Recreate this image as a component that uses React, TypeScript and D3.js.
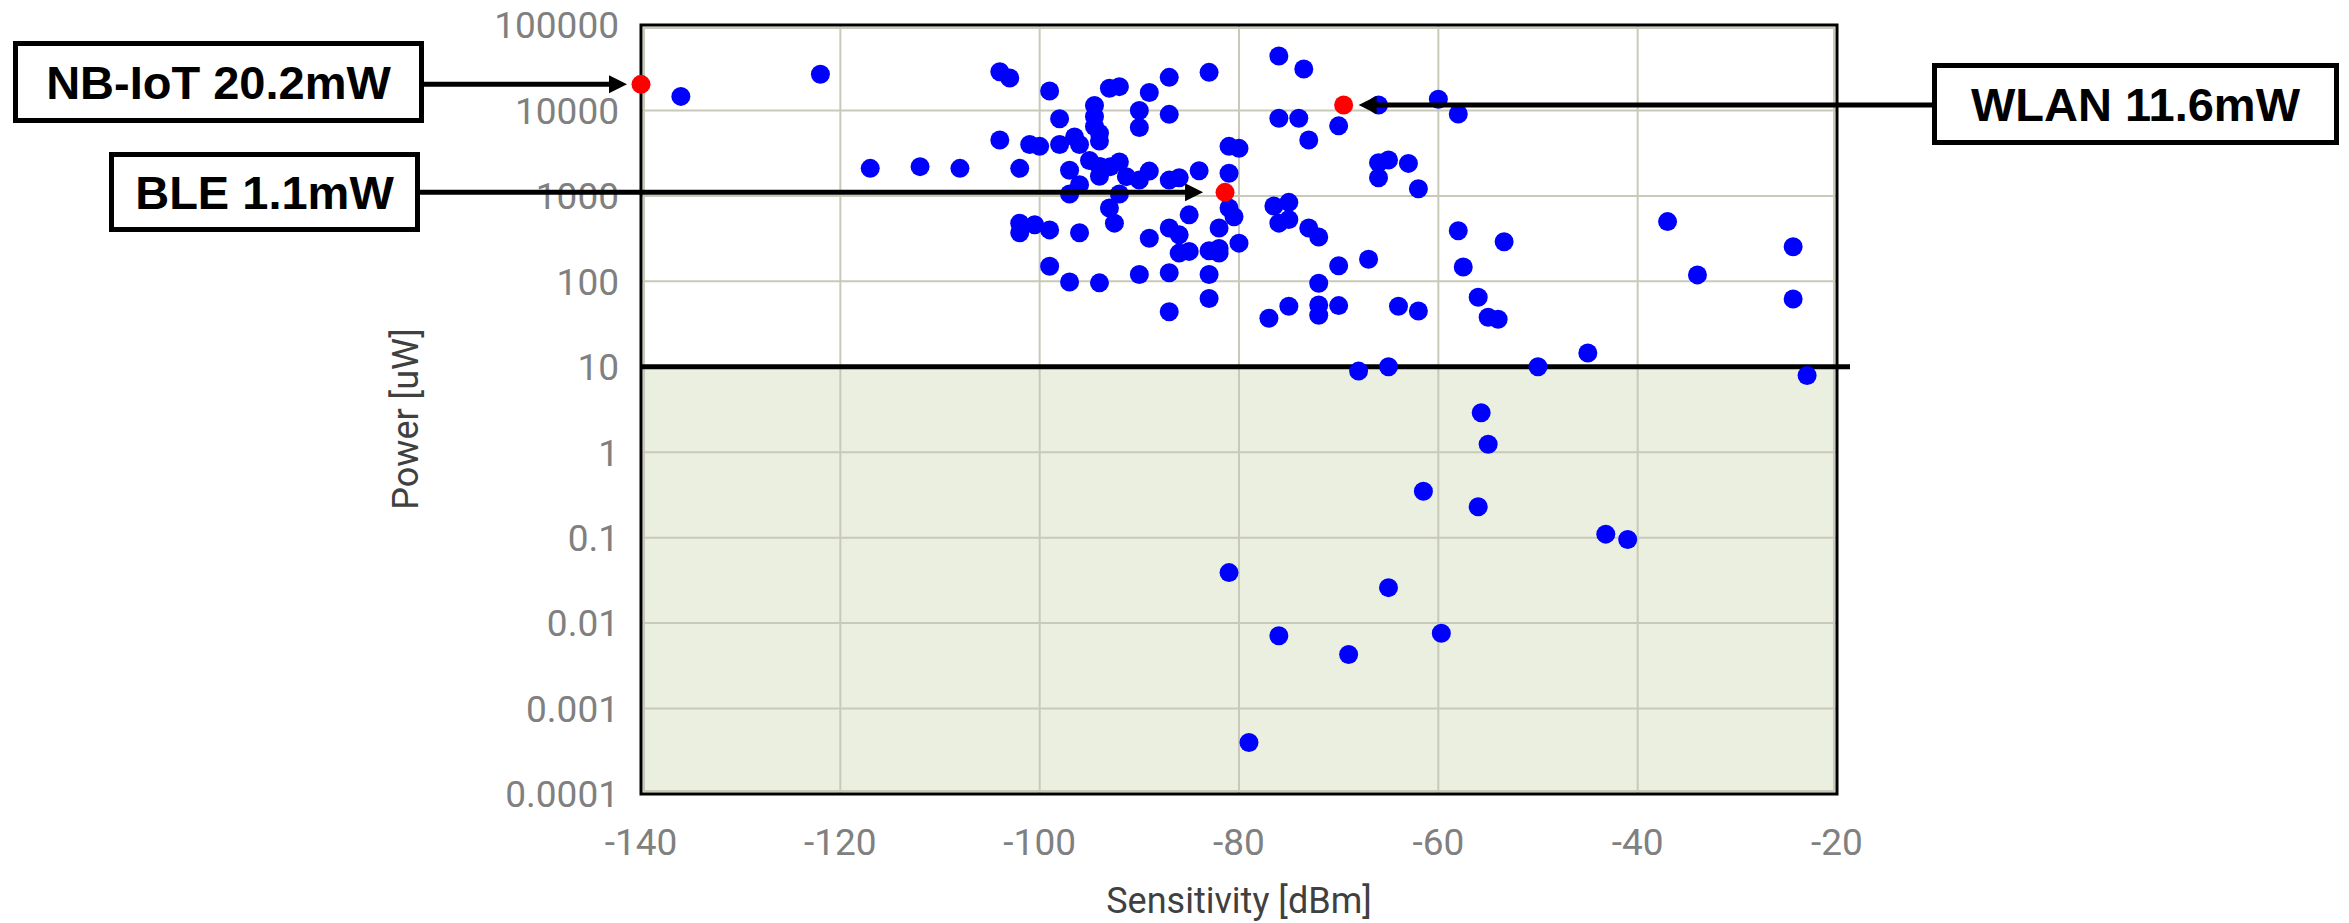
import React from "react"
import * as d3 from "d3"

// radio transceivers: sensitivity [dBm] vs power [uW]
const sensitivity = [
  -136, -122, -104, -103, -99, -93, -92, -94.5, -94.5, -98, -94.5, -94, -94, -104, -101, -100, -98, -96.5, -96,
  -117, -112, -108, -102, -97, -95, -94, -93.9, -92.9, -92, -94, -96, -97, -92, -93, -92.5, -102, -102, -100.5,
  -99, -96, -99, -97, -94, -89, -87, -83, -90, -90, -87, -76, -73.5, -76, -74, -73, -70, -66, -60, -58, -81, -80,
  -81, -84, -89, -87, -86, -91.3, -90, -85, -87, -86, -89, -82, -81, -80.5, -86, -85, -83, -82, -82, -80, -90,
  -87, -83, -83, -87, -76.5, -75, -76, -75, -73, -72, -70, -67, -72, -75, -77, -72, -72, -70, -64, -62, -66, -66,
  -65, -63, -62, -58, -57.5, -53.4, -56, -55, -54, -37, -24.4, -34, -24.4, -45, -68, -65, -50, -23, -55.7, -55,
  -61.5, -56, -43.2, -41, -81, -65, -76, -69, -59.7, -79,
]
const power = [
  14600, 26500, 28400, 24000, 16900, 18200, 19000, 11400, 8500, 8000, 6500, 5400, 4400, 4500, 4000, 3800, 4000, 4900, 4000,
  2100, 2200, 2100, 2100, 2000, 2600, 2200, 2200, 2200, 2500, 1700, 1350, 1050, 1050, 720, 480, 480, 370, 460,
  400, 370, 150, 98, 96, 16200, 24400, 27900, 10000, 6300, 9000, 43400, 30500, 8100, 8100, 4500, 6600, 11600, 13500, 9100, 3800, 3600,
  1840, 1970, 1950, 1530, 1630, 1680, 1530, 600, 420, 350, 320, 420, 720, 570, 214, 224, 228, 243, 214, 280, 120,
  126, 120, 63, 44, 760, 840, 480, 530, 420, 330, 152, 181, 95, 51, 37, 53, 40, 52, 51, 45, 1630, 2450,
  2630, 2400, 1210, 390, 147, 290, 65, 38, 36, 500, 254, 119, 62, 14.5, 8.9, 10, 10, 7.9, 2.9, 1.24,
  0.35, 0.23, 0.11, 0.095, 0.039, 0.026, 0.0071, 0.0043, 0.0076, 0.0004,
]

const highlightNames = ["NB-IoT 20.2mW", "BLE 1.1mW", "WLAN 11.6mW"]
const highlightSensitivity = [-140, -81.4, -69.5]
const highlightPower = [20200, 1100, 11600]

const xTicks = [-140, -120, -100, -80, -60, -40, -20]
const yTicks = [100000, 10000, 1000, 100, 10, 1, 0.1, 0.01, 0.001, 0.0001]
const yTickLabels = ["100000", "10000", "1000", "100", "10", "1", "0.1", "0.01", "0.001", "0.0001"]
const threshold = 10

const W = 2349
const H = 923
const plot = { left: 641, right: 1837, top: 25, bottom: 794 }

// label boxes (layout only) and where the arrow stops relative to the dot
const boxes = [
  { x: 13, y: 41, w: 411, h: 82, side: "right", gap: -14 },
  { x: 109, y: 152, w: 311, h: 80, side: "right", gap: -22 },
  { x: 1932, y: 63, w: 407, h: 82, side: "left", gap: 15 },
]

const App = () => {
  const x = d3.scaleLinear().domain([-140, -20]).range([plot.left, plot.right])
  const y = d3.scaleLog().domain([0.0001, 100000]).range([plot.bottom, plot.top])
  const gridColor = "#c9c9b9"
  const tickFont = "Roboto, 'Noto Sans', sans-serif"

  return (
    <svg width={W} height={H} style={{ position: "absolute", left: 0, top: 0, background: "#fff" }}>
      {/* low power zone */}
      <rect x={plot.left} y={y(threshold)} width={plot.right - plot.left} height={plot.bottom - y(threshold)} fill="#ebefdf" />

      {xTicks.map((t) => (
        <line key={"gx" + t} x1={x(t)} x2={x(t)} y1={plot.top} y2={plot.bottom} stroke={gridColor} strokeWidth={2} />
      ))}
      {yTicks.map((t) => (
        <line key={"gy" + t} x1={plot.left} x2={plot.right} y1={y(t)} y2={y(t)} stroke={gridColor} strokeWidth={2} />
      ))}

      <rect x={plot.left + 3} y={plot.top + 3} width={plot.right - plot.left - 6} height={plot.bottom - plot.top - 6}
        fill="none" stroke={gridColor} strokeWidth={2} />
      <rect x={plot.left} y={plot.top} width={plot.right - plot.left} height={plot.bottom - plot.top}
        fill="none" stroke="#000" strokeWidth={3} />

      <line x1={plot.left} x2={plot.right + 13} y1={y(threshold)} y2={y(threshold)} stroke="#000" strokeWidth={5} />

      {yTicks.map((t, i) => (
        <text key={"ty" + t} x={619} y={y(t)} dy="0.36em" textAnchor="end" fontFamily={tickFont} fontSize={37} fill="#808080">
          {yTickLabels[i]}
        </text>
      ))}
      {xTicks.map((t) => (
        <text key={"tx" + t} x={x(t)} y={855} textAnchor="middle" fontFamily={tickFont} fontSize={37} fill="#808080">
          {t}
        </text>
      ))}

      <text x={(plot.left + plot.right) / 2} y={913} textAnchor="middle" fontFamily={tickFont} fontSize={36} fill="#404040">
        Sensitivity [dBm]
      </text>
      <text transform="translate(418,419) rotate(-90)" textAnchor="middle" fontFamily={tickFont} fontSize={36} fill="#404040">
        Power [uW]
      </text>

      {sensitivity.map((s, i) => (
        <circle key={"p" + i} cx={x(s)} cy={y(power[i])} r={9.5} fill="#0000ff" />
      ))}
      {highlightSensitivity.map((s, i) => (
        <circle key={"h" + i} cx={x(s)} cy={y(highlightPower[i])} r={9.5} fill="#ff0000" />
      ))}

      {boxes.map((b, i) => {
        const ty = y(highlightPower[i])
        const tip = x(highlightSensitivity[i]) + b.gap
        const start = b.side === "right" ? b.x + b.w : b.x
        const dir = b.side === "right" ? 1 : -1
        const head = 18
        return (
          <g key={"a" + i}>
            <line x1={start} x2={tip - dir * (head - 2)} y1={ty} y2={ty} stroke="#000" strokeWidth={5} />
            <polygon points={`${tip},${ty} ${tip - dir * head},${ty - 9} ${tip - dir * head},${ty + 9}`} fill="#000" />
            <rect x={b.x + 2.5} y={b.y + 2.5} width={b.w - 5} height={b.h - 5} fill="#fff" stroke="#000" strokeWidth={5} />
            <text x={b.x + b.w / 2} y={b.y + b.h / 2 + 17} textAnchor="middle"
              fontFamily="'Liberation Sans', Arial, sans-serif" fontWeight="bold" fontSize={47} fill="#000">
              {highlightNames[i]}
            </text>
          </g>
        )
      })}
    </svg>
  )
}

export default App
